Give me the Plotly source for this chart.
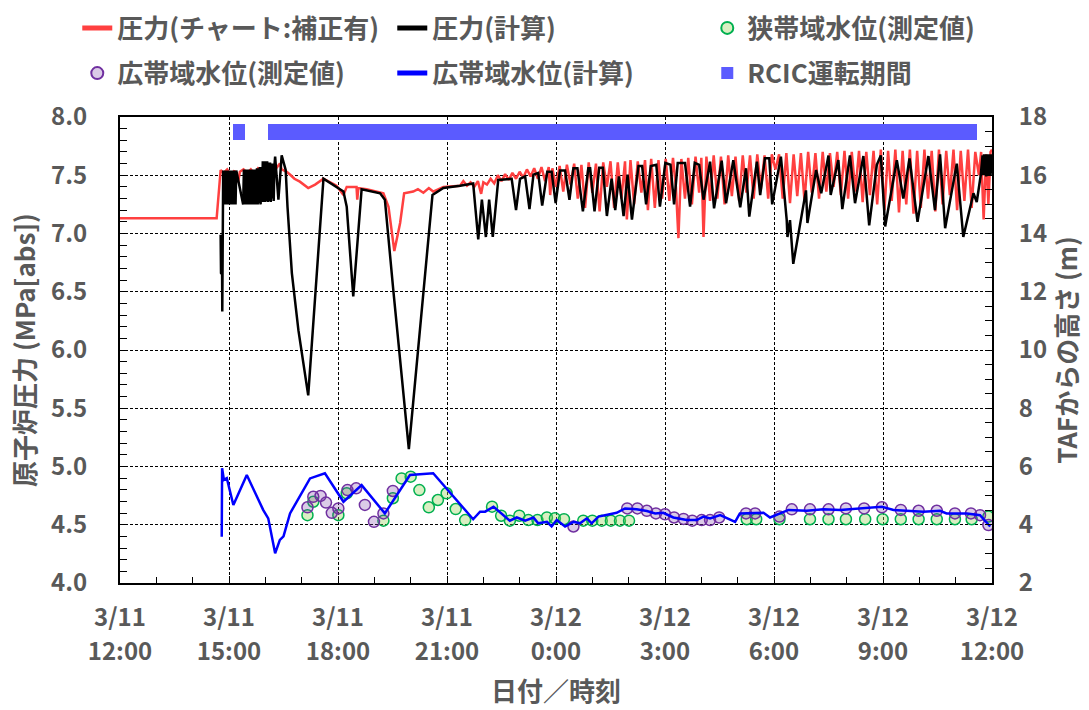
import pandas as pd
import plotly.graph_objects as go

BASE = pd.Timestamp("2011-03-11 12:00")

# ---------------- data (hours after 3/11 12:00) ----------------
# 圧力(チャート:補正有)  [MPa abs]
p_chart = [
    (0.00, 7.13), (2.66, 7.13), (2.77, 7.545), (2.85, 7.52), (2.95, 7.55), (3.05, 7.50),
    (3.15, 7.54), (3.25, 7.44), (3.30, 7.53), (3.40, 7.55), (3.50, 7.52), (3.60, 7.55),
    (3.70, 7.51), (3.80, 7.56), (3.90, 7.54), (4.00, 7.57), (4.10, 7.55), (4.20, 7.58),
    (4.30, 7.56), (4.40, 7.60), (4.45, 7.55), (4.59, 7.53), (4.70, 7.50), (4.80, 7.47),
    (4.95, 7.445), (5.18, 7.39), (5.37, 7.42), (5.60, 7.47), (5.96, 7.41), (6.15, 7.33),
    (6.24, 7.40), (6.51, 7.40), (6.53, 7.29), (6.56, 7.39), (6.79, 7.38), (7.25, 7.345),
    (7.39, 7.23), (7.55, 6.85), (7.71, 7.09), (7.82, 7.345), (8.07, 7.36), (8.20, 7.38),
    (8.35, 7.35), (8.50, 7.39), (8.62, 7.36), (8.90, 7.40), (9.36, 7.41), (9.45, 7.45),
    (9.55, 7.41), (9.65, 7.44), (9.75, 7.40), (9.85, 7.45), (9.94, 7.34), (10.00, 7.44),
    (10.10, 7.42), (10.20, 7.47), (10.30, 7.43), (10.40, 7.50), (10.50, 7.45), (10.60, 7.51),
    (10.70, 7.46), (10.80, 7.52), (10.90, 7.47), (11.00, 7.53), (11.10, 7.48), (11.20, 7.55),
    (11.30, 7.49), (11.40, 7.56), (11.50, 7.47), (11.60, 7.57), (11.70, 7.45), (11.80, 7.57),
    (11.84, 7.33), (11.90, 7.56), (12.00, 7.40), (12.10, 7.58), (12.20, 7.36), (12.30, 7.59),
    (12.40, 7.42), (12.50, 7.60), (12.60, 7.30), (12.70, 7.59), (12.80, 7.22), (12.90, 7.61),
    (13.00, 7.35), (13.10, 7.60), (13.20, 7.19), (13.30, 7.61), (13.40, 7.40), (13.50, 7.62),
    (13.60, 7.22), (13.70, 7.61), (13.80, 7.30), (13.90, 7.62), (13.95, 7.12), (14.05, 7.63),
    (14.15, 7.25), (14.25, 7.62), (14.35, 7.35), (14.45, 7.63), (14.53, 7.20), (14.62, 7.64),
    (14.72, 7.22), (14.82, 7.63), (14.92, 7.30), (15.02, 7.64), (15.12, 7.28), (15.22, 7.65),
    (15.30, 7.40), (15.37, 6.96), (15.45, 7.64), (15.55, 7.30), (15.64, 7.65), (15.74, 7.25),
    (15.84, 7.66), (15.94, 7.35), (16.00, 7.65), (16.06, 6.97), (16.14, 7.66), (16.24, 7.28),
    (16.34, 7.67), (16.44, 7.30), (16.54, 7.66), (16.64, 7.25), (16.74, 7.67), (16.84, 7.32),
    (16.94, 7.66), (17.04, 7.28), (17.14, 7.67), (17.24, 7.35), (17.34, 7.67), (17.44, 7.30),
    (17.54, 7.68), (17.64, 7.38), (17.74, 7.67), (17.84, 7.30), (17.94, 7.68), (18.04, 7.55),
    (18.14, 7.68), (18.24, 7.30), (18.34, 7.69), (18.44, 7.26), (18.54, 7.68), (18.64, 7.32),
    (18.74, 7.69), (18.84, 7.28), (18.94, 7.70), (19.04, 7.35), (19.14, 7.69), (19.24, 7.30),
    (19.34, 7.70), (19.44, 7.36), (19.54, 7.69), (19.64, 7.40), (19.74, 7.70), (19.84, 7.33),
    (19.94, 7.71), (20.04, 7.30), (20.14, 7.70), (20.24, 7.36), (20.34, 7.71), (20.44, 7.27),
    (20.54, 7.70), (20.64, 7.33), (20.74, 7.71), (20.84, 7.25), (20.94, 7.72), (21.04, 7.20),
    (21.14, 7.71), (21.24, 7.28), (21.34, 7.72), (21.44, 7.18), (21.54, 7.71), (21.64, 7.25),
    (21.74, 7.72), (21.84, 7.17), (21.94, 7.71), (22.04, 7.22), (22.14, 7.72), (22.24, 7.30),
    (22.34, 7.71), (22.44, 7.19), (22.54, 7.72), (22.64, 7.25), (22.74, 7.71), (22.84, 7.33),
    (22.94, 7.72), (23.04, 7.20), (23.14, 7.71), (23.24, 7.28), (23.34, 7.72), (23.44, 7.22),
    (23.54, 7.70), (23.64, 7.50), (23.70, 7.70), (23.77, 7.12), (23.84, 7.68), (23.90, 7.25),
    (23.96, 7.70), (24.00, 7.72),
]

# 圧力(計算)  [MPa abs]
p_calc = [
    (2.77, 6.99), (2.78, 6.66), (2.81, 6.65), (2.815, 6.33), (2.84, 7.54),
    (2.86, 7.25), (2.88, 7.54), (2.90, 7.25), (2.92, 7.54), (2.94, 7.25), (2.96, 7.54),
    (2.98, 7.25), (3.00, 7.54), (3.02, 7.25), (3.04, 7.54), (3.06, 7.25), (3.08, 7.54),
    (3.10, 7.25), (3.12, 7.54), (3.14, 7.25), (3.16, 7.54), (3.18, 7.25), (3.20, 7.54),
    (3.39, 7.25),
    (3.41, 7.55), (3.43, 7.25), (3.45, 7.55), (3.47, 7.25), (3.49, 7.55), (3.51, 7.25),
    (3.53, 7.55), (3.55, 7.25), (3.57, 7.55), (3.59, 7.25), (3.61, 7.55), (3.63, 7.25),
    (3.65, 7.55), (3.67, 7.25), (3.69, 7.55), (3.71, 7.25), (3.73, 7.55), (3.75, 7.25),
    (3.77, 7.56), (3.79, 7.25), (3.81, 7.56), (3.83, 7.26), (3.85, 7.57), (3.87, 7.25),
    (3.89, 7.57),
    (3.91, 7.27), (3.93, 7.62), (3.95, 7.27), (3.97, 7.62), (3.99, 7.27), (4.01, 7.62),
    (4.03, 7.28), (4.05, 7.62), (4.07, 7.27), (4.09, 7.61), (4.11, 7.28), (4.13, 7.61),
    (4.15, 7.27), (4.17, 7.60), (4.19, 7.30), (4.21, 7.60), (4.23, 7.28), (4.25, 7.58),
    (4.27, 7.66), (4.36, 7.29), (4.45, 7.67), (4.56, 7.545), (4.61, 7.23), (4.73, 6.66),
    (4.91, 6.17), (5.18, 5.61), (5.60, 7.47), (6.15, 7.36), (6.24, 7.23), (6.42, 6.46),
    (6.65, 7.38), (7.16, 7.345), (7.29, 7.29), (7.52, 6.52), (7.95, 5.15), (8.60, 7.33),
    (8.90, 7.39), (9.36, 7.41), (9.72, 7.43), (9.86, 6.95), (9.96, 7.29), (10.07, 6.97),
    (10.16, 7.29), (10.26, 6.97), (10.41, 7.46), (10.78, 7.47), (10.90, 7.20), (11.01, 7.47),
    (11.15, 7.49), (11.27, 7.21), (11.38, 7.505), (11.51, 7.52), (11.62, 7.24), (11.76, 7.53),
    (11.88, 7.53), (11.99, 7.26), (12.11, 7.54), (12.25, 7.54), (12.37, 7.29), (12.48, 7.56),
    (12.59, 7.56), (12.74, 7.19), (12.89, 7.56), (12.94, 7.56), (13.06, 7.19), (13.19, 7.565),
    (13.29, 7.565), (13.40, 7.15), (13.53, 7.47), (13.63, 7.20), (13.73, 7.49), (13.86, 7.15),
    (13.97, 7.505), (14.09, 7.12), (14.27, 7.58), (14.37, 7.58), (14.48, 7.25), (14.61, 7.58),
    (14.76, 7.59), (14.86, 7.23), (15.01, 7.606), (15.15, 7.59), (15.25, 7.25), (15.35, 7.606),
    (15.55, 7.606), (15.69, 7.23), (15.82, 7.606), (15.94, 7.59), (16.06, 7.29), (16.24, 7.617),
    (16.35, 7.216), (16.56, 7.625), (16.68, 7.26), (16.88, 7.63), (17.07, 7.225), (17.23, 7.56),
    (17.32, 7.145), (17.53, 7.617), (17.62, 7.33), (17.75, 7.645), (17.87, 7.645), (17.95, 7.25),
    (18.19, 7.66), (18.35, 7.115), (18.37, 6.97), (18.44, 7.115), (18.53, 6.74), (18.88, 7.37),
    (18.92, 7.09), (19.16, 7.545), (19.30, 7.345), (19.50, 7.67), (19.56, 7.33), (19.77, 7.63),
    (19.88, 7.21), (20.09, 7.67), (20.23, 7.26), (20.46, 7.665), (20.62, 7.07), (20.83, 7.59),
    (20.94, 7.67), (21.06, 7.06), (21.38, 7.63), (21.56, 7.30), (21.73, 7.645), (21.95, 7.10),
    (22.25, 7.665), (22.43, 7.20), (22.57, 7.68), (22.71, 7.045), (23.03, 7.60), (23.21, 6.97),
    (23.49, 7.345), (23.58, 7.27), (23.69, 7.50), (23.74, 7.67),
    (23.76, 7.50), (23.78, 7.68), (23.80, 7.50), (23.82, 7.68), (23.84, 7.49), (23.86, 7.68),
    (23.88, 7.50), (23.90, 7.68), (23.92, 7.50), (23.94, 7.68), (23.96, 7.50), (23.98, 7.68),
    (24.00, 7.52),
]

# 狭帯域水位(測定値)  [m above TAF]
nr_level = [
    (5.16, 4.33), (5.32, 4.79), (6.01, 4.33), (6.24, 5.08), (7.25, 4.14), (7.51, 4.91),
    (7.75, 5.59), (8.00, 5.65), (8.24, 5.19), (8.50, 4.60), (8.75, 4.85), (8.99, 5.08),
    (9.24, 4.54), (9.50, 4.16), (10.24, 4.62), (10.49, 4.31), (10.73, 4.14), (10.99, 4.31),
    (11.24, 4.16), (11.49, 4.16), (11.75, 4.25), (11.97, 4.22), (12.22, 4.19), (12.75, 4.14),
    (13.00, 4.14), (13.26, 4.14), (13.51, 4.14), (13.76, 4.14), (14.01, 4.14), (17.25, 4.19),
    (17.51, 4.19), (18.15, 4.19), (18.99, 4.19), (19.50, 4.19), (19.98, 4.19), (20.51, 4.19),
    (20.99, 4.19), (21.49, 4.19), (21.98, 4.19), (22.48, 4.19), (22.98, 4.19), (23.44, 4.19),
    (23.90, 4.28),
]

# 広帯域水位(測定値)  [m above TAF]
wr_level = [
    (5.16, 4.60), (5.32, 4.96), (5.52, 4.99), (5.67, 4.76), (5.83, 4.41), (6.01, 4.56),
    (6.26, 5.19), (6.50, 5.25), (6.74, 4.68), (6.99, 4.10), (7.25, 4.39), (7.51, 5.16),
    (12.48, 3.94), (13.96, 4.56), (14.24, 4.56), (14.50, 4.48), (14.75, 4.39), (15.00, 4.36),
    (15.25, 4.25), (15.51, 4.20), (15.75, 4.14), (16.01, 4.16), (16.24, 4.16), (16.49, 4.25),
    (17.23, 4.39), (17.48, 4.39), (18.15, 4.28), (18.49, 4.53), (18.99, 4.53), (19.50, 4.53),
    (19.98, 4.56), (20.48, 4.56), (20.97, 4.60), (21.49, 4.51), (21.98, 4.48), (22.48, 4.48),
    (22.98, 4.39), (23.42, 4.39), (23.67, 4.33), (23.90, 3.99),
]

# 広帯域水位(計算)  [m above TAF]
wr_calc = [
    (2.80, 3.59), (2.81, 5.94), (2.86, 5.54), (2.94, 5.60), (3.12, 4.68), (3.49, 5.71),
    (3.94, 4.51), (4.08, 4.22), (4.27, 3.02), (4.40, 3.48), (4.50, 3.60), (4.68, 4.39),
    (5.23, 5.59), (5.64, 5.77), (6.15, 4.79), (6.65, 5.36), (7.29, 4.39), (7.98, 5.71),
    (8.62, 5.77), (9.72, 4.19), (9.91, 4.45), (10.05, 4.45), (10.28, 4.62), (10.73, 4.14),
    (10.92, 4.25), (11.15, 4.14), (11.38, 4.25), (11.51, 4.05), (11.75, 4.10), (11.88, 3.94),
    (12.02, 4.16), (12.25, 3.94), (12.48, 4.10), (12.66, 4.05), (12.85, 4.22), (12.98, 4.05),
    (13.17, 4.28), (13.40, 4.33), (13.67, 4.41), (13.90, 4.56), (14.22, 4.53), (14.50, 4.47),
    (14.73, 4.39), (14.95, 4.41), (15.23, 4.25), (15.60, 4.16), (15.87, 4.16), (16.06, 4.28),
    (16.24, 4.22), (16.52, 4.33), (16.93, 4.10), (17.06, 4.39), (17.43, 4.39), (17.71, 4.41),
    (17.89, 4.25), (18.17, 4.39), (18.40, 4.51), (18.90, 4.48), (19.36, 4.53), (19.82, 4.51),
    (20.28, 4.56), (20.74, 4.59), (20.97, 4.62), (21.29, 4.51), (21.65, 4.48), (22.11, 4.45),
    (22.57, 4.48), (22.75, 4.39), (23.31, 4.39), (23.67, 4.33), (23.95, 3.94),
]

# RCIC運転期間
rcic_start_h = [3.11, 4.07]
rcic_end_h = [3.44, 23.58]

# x tick labels
tick_hours = [0, 3, 6, 9, 12, 15, 18, 21, 24]
tick_dates = ["3/11", "3/11", "3/11", "3/11", "3/12", "3/12", "3/12", "3/12", "3/12"]
tick_times = ["12:00", "15:00", "18:00", "21:00", "0:00", "3:00", "6:00", "9:00", "12:00"]


def to_dt(hours):
    return [BASE + pd.Timedelta(hours=h) for h in hours]


def split(pairs):
    h, v = zip(*pairs)
    return to_dt(h), list(v)


GRAY = "#595959"
FONT = "Noto Sans CJK JP"
RCIC_BAR_Y = 7.87

fig = go.Figure()

starts = to_dt(rcic_start_h)
ends = to_dt(rcic_end_h)
fig.add_trace(go.Bar(
    y=[RCIC_BAR_Y] * len(starts), base=starts,
    x=[(e - s).total_seconds() * 1000 for s, e in zip(starts, ends)],
    orientation="h", width=0.14, marker=dict(color="#5B5BFF", line=dict(width=0)),
    name="RCIC運転期間", legend="legend2", legendrank=6, hoverinfo="skip",
))

x, y = split(p_chart)
fig.add_trace(go.Scatter(x=x, y=y, mode="lines", line=dict(color="#FF4040", width=2.5),
                         name="圧力(チャート:補正有)", legend="legend", legendrank=1))
x, y = split(p_calc)
fig.add_trace(go.Scatter(x=x, y=y, mode="lines", line=dict(color="black", width=2.5),
                         name="圧力(計算)", legend="legend", legendrank=2))
x, y = split(nr_level)
fig.add_trace(go.Scatter(x=x, y=y, yaxis="y2", mode="markers",
                         marker=dict(symbol="circle", size=11, color="rgba(146,208,80,0.35)",
                                     line=dict(color="#00B050", width=1.5)),
                         name="狭帯域水位(測定値)", legend="legend", legendrank=3))
x, y = split(wr_level)
fig.add_trace(go.Scatter(x=x, y=y, yaxis="y2", mode="markers",
                         marker=dict(symbol="circle", size=11, color="rgba(112,48,160,0.25)",
                                     line=dict(color="#7030A0", width=1.5)),
                         name="広帯域水位(測定値)", legend="legend2", legendrank=4))
x, y = split(wr_calc)
fig.add_trace(go.Scatter(x=x, y=y, yaxis="y2", mode="lines", line=dict(color="#0000FF", width=2.5),
                         name="広帯域水位(計算)", legend="legend2", legendrank=5))
# helper overlay axis carrying the time row of the x tick labels
fig.add_trace(go.Scatter(x=[], y=[], xaxis="x2", showlegend=False, hoverinfo="skip"))

xr = [BASE, BASE + pd.Timedelta(hours=24)]
tickdt = to_dt(tick_hours)
tfont = dict(family=FONT, size=24, color=GRAY, weight="bold")
titlefont = dict(family=FONT, size=26, color=GRAY, weight="bold")

legend_common = dict(orientation="h", xanchor="left", yanchor="middle", entrywidth=270,
                     entrywidthmode="pixels", font=titlefont, bgcolor="rgba(0,0,0,0)",
                     itemsizing="constant", traceorder="normal")

fig.update_layout(
    width=1089, height=710,
    margin=dict(l=120, r=97, t=117, b=127, autoexpand=False),
    paper_bgcolor="white", plot_bgcolor="white",
    font=dict(family=FONT, color=GRAY),
    barmode="overlay", bargap=0,
    legend=dict(x=-0.049, y=1.191, **legend_common),
    legend2=dict(x=-0.049, y=1.094, **legend_common),
    xaxis=dict(
        type="date", range=xr, tickmode="array", tickvals=tickdt, ticktext=tick_dates,
        tickfont=tfont, ticks="inside", ticklen=7, tickcolor="black", ticklabelstandoff=12,
        showgrid=True, gridcolor="black", gridwidth=1, griddash="3px,2px",
        showline=True, linecolor="black", linewidth=2, mirror=True, zeroline=False,
        minor=dict(dtick=3600000, ticks="inside", ticklen=6, tickcolor="black", showgrid=False),
    ),
    xaxis2=dict(
        type="date", range=xr, overlaying="x", anchor="y", side="bottom",
        tickmode="array", tickvals=tickdt, ticktext=tick_times, tickfont=tfont,
        ticks="", ticklabelstandoff=52, showgrid=False, showline=False, zeroline=False,
        title=dict(text="日付／時刻", font=titlefont, standoff=16),
    ),
    yaxis=dict(
        range=[4, 8], tick0=4, dtick=0.5, tickformat=".1f", tickfont=tfont,
        ticks="inside", ticklen=7, tickcolor="black", ticklabelstandoff=26,
        showgrid=True, gridcolor="black", gridwidth=1, griddash="3px,2px",
        showline=True, linecolor="black", linewidth=2, mirror=True, zeroline=False,
        minor=dict(dtick=0.1, ticks="inside", ticklen=7, tickcolor="black", showgrid=False),
        title=dict(text="原子炉圧力 (MPa[abs])", font=titlefont, standoff=8),
    ),
    yaxis2=dict(
        range=[2, 18], tick0=2, dtick=2, overlaying="y", side="right", anchor="x",
        tickfont=tfont, ticks="inside", ticklen=7, tickcolor="black", ticklabelstandoff=20,
        showgrid=False, showline=True, linecolor="black", linewidth=2, zeroline=False,
        minor=dict(dtick=0.5, ticks="inside", ticklen=7, tickcolor="black", showgrid=False),
        title=dict(text="TAFからの高さ (m)", font=titlefont, standoff=8),
    ),
)

fig.write_html("out.html")
